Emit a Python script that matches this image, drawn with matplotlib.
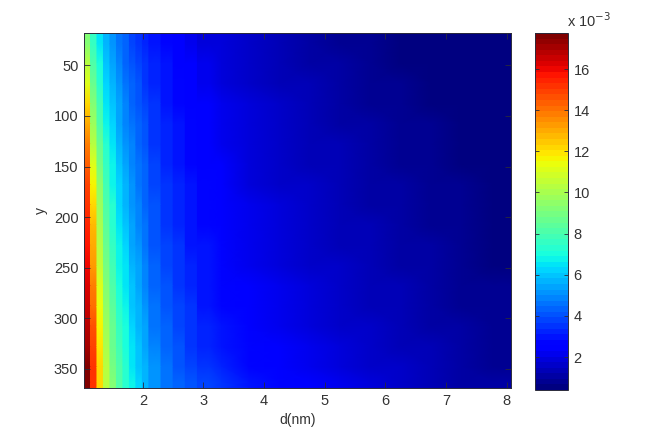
import matplotlib
matplotlib.use('Agg')
import matplotlib.pyplot as plt
import numpy as np

plt.rcParams['font.family'] = ['Liberation Sans', 'DejaVu Sans']

# cell edges
d_edges = [1.03, 1.137, 1.244, 1.351, 1.458, 1.565, 1.672, 1.779, 1.886, 1.993, 2.1,
           2.3, 2.5, 2.7, 2.9, 3.1, 3.5, 4.0, 4.5, 5.0, 5.5, 6.0, 6.5, 7.0, 7.5, 8.07]
y_edges = [18, 38, 58, 78, 98, 118, 138, 158, 178, 198, 218, 238, 258, 278, 298, 318, 338, 358, 369]

# values x 1e-3, one row per y band, top to bottom
z = [
    [9.2, 7.6, 6.6, 5.7, 5.1, 4.6, 4.2, 3.9, 3.6, 3.3, 3.0, 2.7, 2.4, 2.2, 2.0, 1.8, 1.5, 1.25, 1.05, 0.88, 0.72, 0.6, 0.5, 0.44, 0.4],
    [10.2, 8.1, 7.0, 6.0, 5.4, 4.9, 4.4, 4.1, 3.8, 3.5, 3.2, 2.85, 2.55, 2.35, 2.1, 1.9, 1.6, 1.35, 1.15, 0.97, 0.8, 0.66, 0.54, 0.46, 0.41],
    [11.2, 8.6, 7.4, 6.3, 5.6, 5.1, 4.6, 4.3, 4.0, 3.65, 3.3, 2.95, 2.65, 2.45, 2.2, 2.0, 1.7, 1.43, 1.22, 1.04, 0.87, 0.72, 0.59, 0.48, 0.42],
    [12.2, 9.2, 7.8, 6.6, 5.9, 5.3, 4.8, 4.45, 4.15, 3.8, 3.4, 3.05, 2.75, 2.55, 2.3, 2.1, 1.77, 1.5, 1.29, 1.1, 0.93, 0.78, 0.64, 0.52, 0.44],
    [13.0, 9.8, 8.2, 6.9, 6.2, 5.5, 5.0, 4.6, 4.3, 3.95, 3.5, 3.15, 2.85, 2.63, 2.4, 2.17, 1.84, 1.57, 1.35, 1.16, 0.99, 0.84, 0.69, 0.56, 0.46],
    [13.7, 10.4, 8.6, 7.2, 6.4, 5.7, 5.2, 4.8, 4.45, 4.05, 3.65, 3.25, 2.95, 2.7, 2.47, 2.25, 1.9, 1.63, 1.41, 1.22, 1.05, 0.89, 0.74, 0.6, 0.48],
    [14.3, 11.0, 9.0, 7.5, 6.7, 5.9, 5.4, 4.95, 4.6, 4.2, 3.75, 3.35, 3.05, 2.78, 2.55, 2.32, 1.96, 1.69, 1.47, 1.27, 1.1, 0.94, 0.78, 0.64, 0.5],
    [14.8, 11.6, 9.4, 7.8, 6.9, 6.1, 5.6, 5.1, 4.7, 4.3, 3.85, 3.45, 3.15, 2.85, 2.62, 2.4, 2.02, 1.75, 1.52, 1.32, 1.15, 0.99, 0.83, 0.68, 0.53],
    [15.2, 12.1, 9.8, 8.1, 7.2, 6.3, 5.8, 5.25, 4.85, 4.45, 3.95, 3.55, 3.25, 2.92, 2.7, 2.47, 2.08, 1.8, 1.57, 1.37, 1.2, 1.03, 0.88, 0.72, 0.56],
    [15.5, 12.6, 10.1, 8.4, 7.4, 6.5, 6.0, 5.4, 5.0, 4.6, 4.05, 3.65, 3.35, 3.0, 2.77, 2.54, 2.14, 1.86, 1.62, 1.42, 1.25, 1.08, 0.92, 0.76, 0.59],
    [15.8, 13.0, 10.4, 8.7, 7.6, 6.7, 6.2, 5.55, 5.15, 4.7, 4.15, 3.75, 3.45, 3.1, 2.85, 2.6, 2.2, 1.92, 1.67, 1.47, 1.3, 1.13, 0.97, 0.8, 0.62],
    [16.0, 13.4, 10.7, 8.9, 7.9, 6.9, 6.4, 5.7, 5.3, 4.85, 4.3, 3.85, 3.55, 3.2, 2.93, 2.67, 2.27, 1.98, 1.73, 1.53, 1.35, 1.18, 1.01, 0.84, 0.65],
    [16.3, 13.8, 11.0, 9.1, 8.1, 7.1, 6.6, 5.85, 5.45, 5.0, 4.4, 3.95, 3.65, 3.3, 3.0, 2.74, 2.34, 2.04, 1.79, 1.58, 1.4, 1.23, 1.06, 0.88, 0.69],
    [16.6, 14.2, 11.3, 9.4, 8.3, 7.3, 6.8, 6.0, 5.6, 5.15, 4.55, 4.1, 3.75, 3.4, 3.1, 2.82, 2.42, 2.11, 1.86, 1.65, 1.46, 1.28, 1.11, 0.93, 0.73],
    [16.9, 14.5, 11.6, 9.7, 8.6, 7.6, 7.0, 6.2, 5.75, 5.3, 4.7, 4.25, 3.85, 3.5, 3.2, 2.92, 2.5, 2.2, 1.93, 1.72, 1.52, 1.34, 1.16, 0.98, 0.78],
    [17.2, 14.8, 11.9, 10.0, 8.8, 7.8, 7.1, 6.4, 5.9, 5.45, 4.85, 4.4, 4.0, 3.65, 3.35, 3.05, 2.62, 2.3, 2.03, 1.8, 1.6, 1.41, 1.22, 1.04, 0.84],
    [17.5, 15.1, 12.1, 10.2, 9.0, 8.0, 7.3, 6.6, 6.05, 5.6, 5.05, 4.55, 4.15, 3.85, 3.55, 3.25, 2.8, 2.45, 2.17, 1.93, 1.7, 1.5, 1.31, 1.12, 0.9],
    [17.6, 15.3, 12.3, 10.4, 9.2, 8.2, 7.4, 6.8, 6.2, 5.7, 5.2, 4.7, 4.3, 4.0, 3.7, 3.4, 2.95, 2.6, 2.3, 2.05, 1.8, 1.6, 1.4, 1.2, 0.95],
]

x_ticks = [2, 3, 4, 5, 6, 7, 8]
y_ticks = [50, 100, 150, 200, 250, 300, 350]
cbar_ticks = [2, 4, 6, 8, 10, 12, 14, 16]

W, H = 654, 436
text_col = '#333333'
edge_col = '#2a2a3a'
n_flat = 15  # columns left of this stay as flat strips, the rest blend

z_arr = np.array(z)
edges = np.array(d_edges)
centers = (edges[:-1] + edges[1:]) / 2

# vertex columns: both edges of each strip on the left, centres on the right
x_v, col_v = [], []
for i in range(n_flat):
    x_v += [edges[i], edges[i + 1]]
    col_v += [i, i]
for i in range(n_flat, len(centers)):
    x_v.append(centers[i])
    col_v.append(i)
x_v.append(edges[-1])
col_v.append(len(centers) - 1)

y_mid = (np.array(y_edges[:-1]) + np.array(y_edges[1:])) / 2
y_v = np.r_[y_edges[0], y_mid, y_edges[-1]]
row_v = np.r_[0, np.arange(len(y_mid)), len(y_mid) - 1]
X, Y = np.meshgrid(x_v, y_v)

fig = plt.figure(figsize=(W / 100, H / 100), dpi=100)
ax = fig.add_axes([84 / W, 1 - 388 / H, 427 / W, 355 / H])
mesh = ax.pcolormesh(X, Y, z_arr[np.ix_(row_v, col_v)], shading='gouraud',
                     cmap=plt.get_cmap('jet', 64), vmin=0.4, vmax=17.75)
ax.set_xlim(d_edges[0], d_edges[-1])
ax.set_ylim(y_edges[-1], y_edges[0])
ax.set_xticks(x_ticks)
ax.set_yticks(y_ticks)
ax.tick_params(direction='in', length=4, width=0.6, top=True, right=True,
               labelsize=10.5, colors=edge_col, labelcolor=text_col, pad=4)
ax.set_xlabel('d(nm)', fontsize=10, color=text_col, labelpad=4)
ax.set_ylabel('y', fontsize=10, color=text_col, labelpad=4)
for s in ax.spines.values():
    s.set_linewidth(0.7)
    s.set_color(edge_col)

cax = fig.add_axes([535 / W, 1 - 390 / H, 33 / W, 357 / H])
cbar = fig.colorbar(mesh, cax=cax)
cbar.set_ticks(cbar_ticks)
cbar.ax.tick_params(direction='in', length=3, width=0.6, left=True, right=True,
                    labelsize=10.5, colors=edge_col, labelcolor=text_col, pad=4)
cbar.outline.set_linewidth(0.7)
cbar.outline.set_edgecolor(edge_col)
fig.text(567 / W, 1 - 27 / H, 'x 10$^{-3}$', fontsize=10.5, color=text_col, ha='left', va='baseline',
         math_fontfamily='custom')

fig.savefig('out.png', dpi=100)
